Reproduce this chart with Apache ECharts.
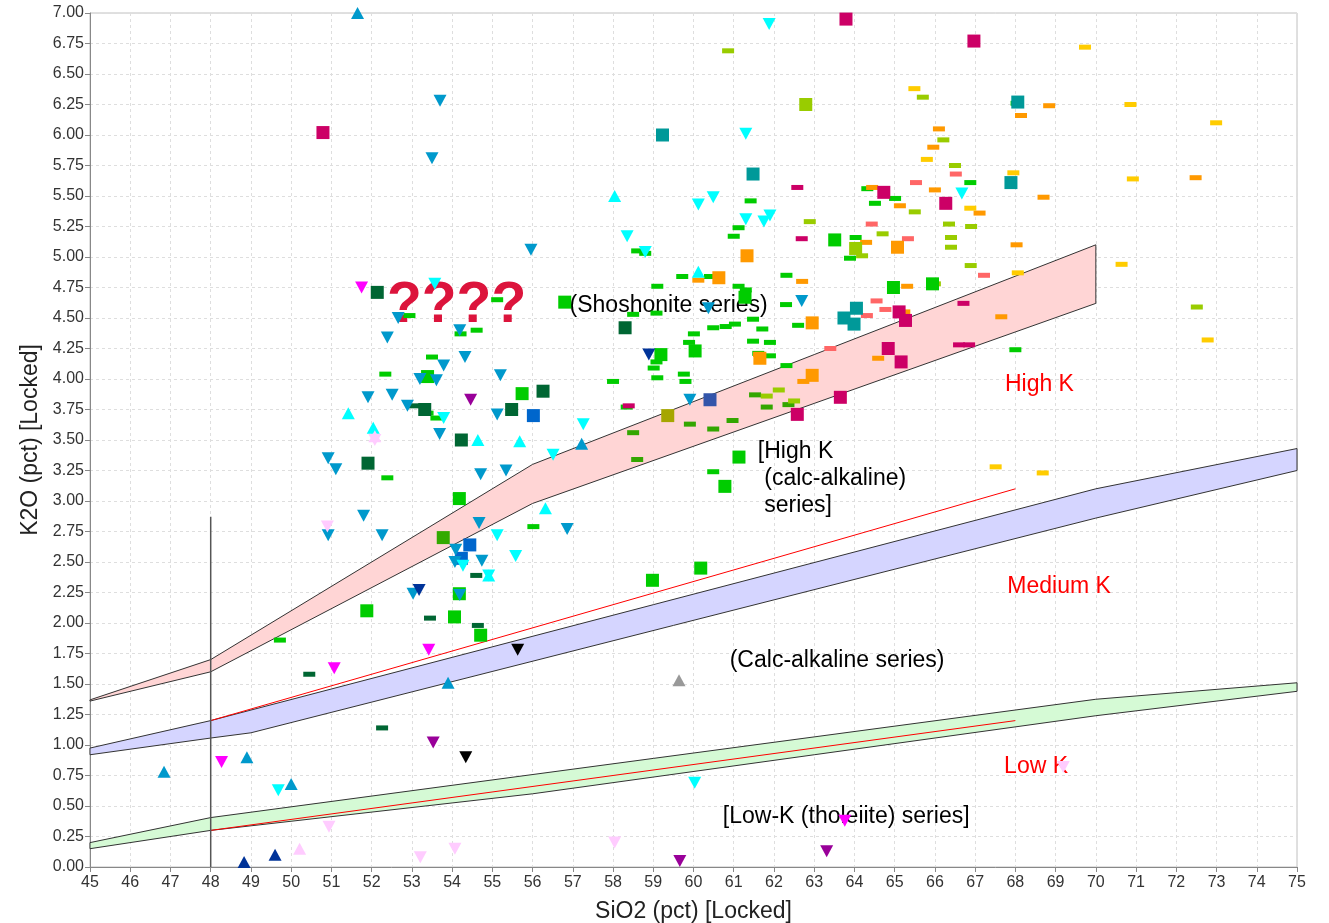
<!DOCTYPE html>
<html><head><meta charset="utf-8">
<script src="https://cdn.jsdelivr.net/npm/echarts@6/dist/echarts.min.js"></script>
<style>html,body{margin:0;padding:0;background:#fff}#c{width:1329px;height:923px}</style>
</head><body><div id="c"></div>
<script>
// ---- axis ticks ----
const xMin = 45, xMax = 75, xStep = 1;
const yMin = 0, yMax = 7, yStep = 0.25;

// ---- field bands (upper edge, lower edge) ----
const shoshUpper = [[45,1.37],[48,1.70],[56,3.30],[70,5.10]];
const shoshLower = [[45,1.36],[48,1.60],[56,2.98],[70,4.62]];
const hkUpper = [[45,0.975],[48,1.20],[70,3.10],[75,3.43]];
const hkLower = [[45,0.92],[48,1.057],[49,1.10],[70,2.86],[75,3.25]];
const lkUpper = [[45,0.20],[48,0.405],[70,1.375],[75,1.51]];
const lkLower = [[45,0.15],[48,0.30],[56,0.60],[70,1.24],[75,1.44]];
const redLineHigh = [[48,1.2],[68,3.1]];
const redLineLow = [[48,0.3],[68,1.2]];
const vertLine = [[48,0],[48,2.87]];

// ---- annotations ----
const annoText = ['????','(Shoshonite series)','High K','[High K\n (calc-alkaline)\n series]','Medium K','(Calc-alkaline series)','Low K','[Low-K (tholeiite) series]'];
const annoPos = [[52.38,4.60],[56.92,4.60],[67.74,3.95],[61.6,3.186],[67.8,2.30],[60.9,1.69],[67.72,0.82],[60.73,0.41]];
const annoColor = ['#DC143C','#000','#FF0000','#000','#FF0000','#000','#FF0000','#000'];
const annoSize = [57,23,23,23,23,23,23,23];
const annoWeight = ['bold','normal','normal','normal','normal','normal','normal','normal'];

// ---- samples: squares ----
const sqGreen = [[56.8,4.63],[55.74,3.88],[54.18,3.02],[54.18,2.24],[54.06,2.05],[54.71,1.90],[51.88,2.10],[64.97,4.75],[65.94,4.78],[63.51,5.14],[61.28,4.67],[59.19,4.20],[60.04,4.23],[61.13,3.36],[60.78,3.12],[58.98,2.35],[60.18,2.45],[53.39,4.02]];
const sqMidGreen = [[53.78,2.70]];
const sqDarkGreen = [[52.14,4.71],[55.48,3.75],[56.26,3.90],[53.32,3.75],[54.23,3.50],[51.91,3.31],[58.3,4.42]];
const sqYellowGreen = [[62.79,6.25],[64.03,5.07]];
const sqOlive = [[59.36,3.70]];
const sqOrange = [[61.33,5.01],[60.63,4.83],[65.07,5.08],[62.95,4.46],[62.95,4.03],[61.65,4.17]];
const sqCrimson = [[50.79,6.02],[63.79,6.95],[66.97,6.77],[64.73,5.53],[66.27,5.44],[65.11,4.55],[65.27,4.48],[64.84,4.25],[65.16,4.14],[63.65,3.85],[62.58,3.71]];
const sqTeal = [[59.23,6.0],[61.48,5.68],[68.06,6.27],[67.89,5.61],[63.74,4.5],[64.05,4.58],[63.99,4.45]];
const sqBlue = [[56.02,3.70],[54.44,2.64],[54.23,2.53]];
const sqSteel = [[60.41,3.83]];

// ---- samples: dashes ----
const dashGreen = [[52.94,4.52],[55.12,4.65],[54.61,4.40],[54.21,4.37],[53.5,4.18],[52.34,4.04],[53.39,3.72],[53.61,3.68],[52.39,3.19],[56.02,2.79],[49.72,1.86],
 [58.6,5.05],[58.8,5.03],[59.1,4.76],[59.72,4.84],[60.41,4.84],[61.12,4.76],[61.3,4.73],[61.42,5.46],[61.12,5.24],[61.0,5.17],[62.31,4.85],[64.03,5.16],[63.89,4.99],[64.32,5.56],[64.51,5.44],[65.01,5.48],
 [62.3,4.61],[61.48,4.49],[58.5,4.53],[59.08,4.54],[60.49,4.42],[60.8,4.43],[61.03,4.45],[61.71,4.41],[60.01,4.37],[62.6,4.44],[59.89,4.30],[61.48,4.31],[61.9,4.30],[61.61,4.21],[61.9,4.19],[59.08,4.14],[59.01,4.09],[59.1,4.01],[59.76,4.04],[59.8,3.98],[58.0,3.98],[62.31,4.11],[58.34,3.77],[60.49,3.24],
 [66.88,5.61],[68.03,6.26],[68.0,4.24]];
const dashMidGreen = [[61.53,3.87],[61.82,3.77],[60.97,3.66],[60.49,3.59],[59.91,3.63],[58.5,3.56],[58.6,3.34],[62.36,3.79]];
const dashDarkGreen = [[54.6,2.39],[54.64,1.98],[53.45,2.04],[50.45,1.58],[52.26,1.14],[53.07,3.78]];
const dashYellowGreen = [[60.86,6.69],[65.7,6.31],[66.21,5.96],[66.5,5.75],[62.89,5.29],[64.7,5.19],[65.5,5.37],[66.35,5.27],[66.4,5.16],[66.4,5.08],[64.19,5.01],[66.0,4.78],[66.9,5.25],[66.89,4.93],[72.51,4.59],[62.12,3.91],[61.82,3.86],[62.5,3.82]];
const dashOrange = [[66.1,6.05],[65.96,5.90],[66.0,5.55],[65.13,5.42],[64.29,5.12],[62.7,4.80],[60.12,4.81],[65.31,4.76],[64.44,5.57],[67.11,5.36],[68.03,5.10],[68.84,6.24],[68.14,6.16],[68.7,5.49],[72.48,5.65],[67.65,4.51],[62.73,3.98],[64.59,4.17],[65.24,4.55],[61.63,4.20]];
const dashYellow = [[65.49,6.38],[65.8,5.80],[69.73,6.72],[66.88,5.40],[68.06,4.87],[67.95,5.69],[70.86,6.25],[72.99,6.10],[70.92,5.64],[70.64,4.94],[72.78,4.32],[67.51,3.28],[68.68,3.23]];
const dashSalmon = [[65.53,5.61],[64.43,5.27],[65.33,5.15],[66.52,5.68],[67.22,4.85],[64.55,4.64],[64.77,4.57],[64.31,4.52],[63.4,4.25]];
const dashCrimson = [[62.58,5.57],[62.69,5.15],[58.39,3.78],[66.71,4.62],[66.6,4.28],[66.85,4.28]];

// ---- samples: triangles ----
const triUpCerulean = [[51.65,7.0],[46.84,0.78],[48.9,0.90],[50.0,0.68],[53.9,1.51],[57.22,3.47]];
const triUpCyan = [[51.42,3.72],[52.04,3.60],[54.64,3.50],[55.68,3.49],[58.04,5.50],[60.12,4.88],[56.32,2.94],[54.91,2.39]];
const triUpNavy = [[48.83,0.04],[49.6,0.10]];
const triUpPink = [[50.21,0.15],[52.08,3.53]];
const triUpGray = [[59.64,1.53]];
const triDnCerulean = [[53.7,6.28],[53.5,5.81],[55.96,5.06],[52.66,4.50],[52.39,4.34],[54.19,4.40],[54.32,4.18],[53.79,4.11],[53.2,4.0],[53.61,3.99],[55.2,4.03],[51.91,3.85],[52.51,3.87],[52.89,3.78],[55.12,3.71],[53.69,3.55],[50.92,3.35],[51.11,3.26],[54.71,3.22],[55.34,3.25],[51.8,2.88],[50.92,2.72],[52.26,2.72],[54.67,2.82],[56.86,2.77],[54.09,2.60],[54.07,2.50],[54.74,2.51],[53.03,2.24],[54.19,2.23],[59.91,3.83],[62.69,4.64],[60.37,4.58]];
const triDnCyan = [[58.35,5.17],[58.8,5.04],[60.12,5.43],[60.49,5.49],[61.3,6.01],[61.88,6.91],[61.3,5.31],[61.75,5.29],[61.9,5.34],[66.67,5.52],[57.26,3.63],[55.12,2.72],[55.58,2.55],[54.27,2.47],[53.79,3.68],[53.57,4.78],[56.51,3.38],[49.68,0.63],[60.03,0.69],[54.91,2.39]];
const triDnNavy = [[53.18,2.27],[58.89,4.20]];
const triDnMagenta = [[51.75,4.75],[48.27,0.86],[51.07,1.63],[53.42,1.78],[63.76,0.38]];
const triDnPurple = [[53.53,1.02],[54.46,3.83],[59.66,0.05],[63.31,0.13]];
const triDnPink = [[50.94,0.33],[53.21,0.08],[54.07,0.15],[58.04,0.20],[52.08,3.50],[50.9,2.79],[69.19,0.82]];
const triDnBlack = [[54.34,0.90],[55.63,1.78]];

const FONT = '"Liberation Sans", Arial, sans-serif';

function band(upper, lower, fill, z) {
  return {
    type: 'custom', data: [0], z: z, silent: true,
    renderItem: function (params, api) {
      const pts = upper.concat(lower.slice().reverse()).map(p => api.coord(p));
      return { type: 'polygon', shape: { points: pts },
        style: { fill: fill, stroke: '#333', lineWidth: 1 } };
    }
  };
}
function line(data, color, width, z) {
  return { type: 'line', data: data, symbol: 'none', silent: true, z: z,
    lineStyle: { color: color, width: width }, animation: false };
}
function sc(data, color, kind) {
  let symbol = 'rect', size = 13, rot = 0;
  if (kind === 'dash') { size = [12, 5]; }
  if (kind === 'up') { symbol = 'triangle'; size = [13, 12]; }
  if (kind === 'dn') { symbol = 'triangle'; size = [13, 12]; rot = 180; }
  return { type: 'scatter', data: data, symbol: symbol, symbolSize: size, symbolRotate: rot,
    itemStyle: { color: color, opacity: 1 }, z: 5, silent: true };
}

const chart = echarts.init(document.getElementById('c'), null, { renderer: 'canvas' });
chart.setOption({
  animation: false,
  backgroundColor: '#fff',
  grid: { left: 90, right: 32, top: 13, bottom: 56, containLabel: false, outerBoundsMode: 'none',
    show: true, borderColor: '#c0c0c0', borderWidth: 1 },
  xAxis: {
    type: 'value', min: xMin, max: xMax, interval: xStep,
    name: 'SiO2 (pct) [Locked]', nameLocation: 'middle', nameGap: 33,
    nameTextStyle: { fontSize: 23, color: '#222', fontFamily: FONT },
    axisLine: { lineStyle: { color: '#888' } },
    axisTick: { show: true, length: 5, lineStyle: { color: '#888' } },
    axisLabel: { fontSize: 16, color: '#333', fontFamily: FONT, margin: 8 },
    splitLine: { show: true, lineStyle: { color: '#dedede', type: [3, 3] } }
  },
  yAxis: {
    type: 'value', min: yMin, max: yMax, interval: yStep,
    name: 'K2O (pct) [Locked]', nameLocation: 'middle', nameGap: 39,
    nameTextStyle: { fontSize: 23, color: '#222', fontFamily: FONT },
    axisLine: { show: true, lineStyle: { color: '#888' } },
    axisTick: { show: true, length: 5, lineStyle: { color: '#888' } },
    axisLabel: { fontSize: 16, color: '#333', fontFamily: FONT, margin: 6,
      formatter: v => v.toFixed(2) },
    splitLine: { show: true, lineStyle: { color: '#dedede', type: [3, 3] } }
  },
  series: [
    band(shoshUpper, shoshLower, '#FFD5D5', 1),
    band(hkUpper, hkLower, '#D5D5FF', 1),
    band(lkUpper, lkLower, '#D5FAD5', 1),
    line(redLineHigh, '#FF0000', 1, 2),
    line(redLineLow, '#FF0000', 1, 2),
    line(vertLine, '#555', 1.5, 2),
    {
      type: 'custom', data: annoPos, z: 3, silent: true,
      renderItem: function (params, api) {
        const i = params.dataIndex;
        const p = api.coord(annoPos[i]);
        return { type: 'text', x: p[0], y: p[1],
          style: { text: annoText[i], fill: annoColor[i], fontSize: annoSize[i], fontWeight: annoWeight[i],
            fontFamily: FONT, align: 'left', verticalAlign: 'middle', lineHeight: 27 } };
      }
    },
    sc(dashGreen, '#00CC00', 'dash'),
    sc(dashMidGreen, '#33A600', 'dash'),
    sc(dashDarkGreen, '#006633', 'dash'),
    sc(dashYellowGreen, '#99CC00', 'dash'),
    sc(dashOrange, '#FF9900', 'dash'),
    sc(dashYellow, '#FFCC00', 'dash'),
    sc(dashSalmon, '#FF6666', 'dash'),
    sc(dashCrimson, '#CC0066', 'dash'),
    sc(sqGreen, '#00CC00', 'sq'),
    sc(sqMidGreen, '#33AA00', 'sq'),
    sc(sqDarkGreen, '#006633', 'sq'),
    sc(sqYellowGreen, '#99CC00', 'sq'),
    sc(sqOlive, '#A6A600', 'sq'),
    sc(sqOrange, '#FF9900', 'sq'),
    sc(sqCrimson, '#CC0066', 'sq'),
    sc(sqTeal, '#009999', 'sq'),
    sc(sqBlue, '#0066CC', 'sq'),
    sc(sqSteel, '#3355AA', 'sq'),
    sc(triUpCerulean, '#0099CC', 'up'),
    sc(triUpCyan, '#00FFFF', 'up'),
    sc(triUpNavy, '#003399', 'up'),
    sc(triUpPink, '#FFCCFF', 'up'),
    sc(triUpGray, '#999999', 'up'),
    sc(triDnCerulean, '#0099CC', 'dn'),
    sc(triDnCyan, '#00FFFF', 'dn'),
    sc(triDnNavy, '#003399', 'dn'),
    sc(triDnMagenta, '#FF00FF', 'dn'),
    sc(triDnPurple, '#990099', 'dn'),
    sc(triDnPink, '#FFCCFF', 'dn'),
    sc(triDnBlack, '#000000', 'dn')
  ]
});
</script></body></html>
